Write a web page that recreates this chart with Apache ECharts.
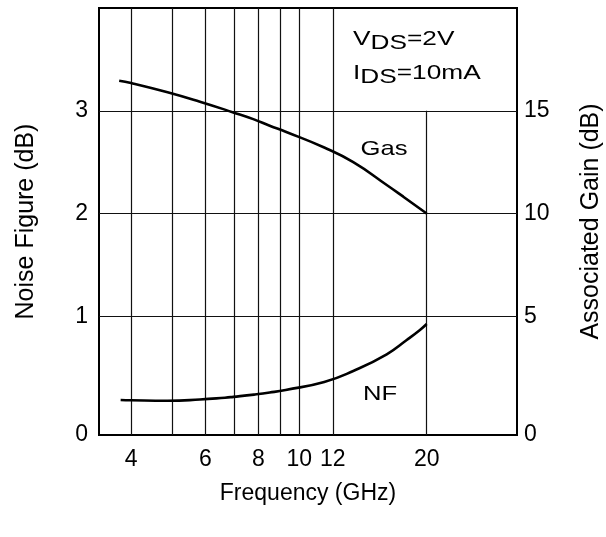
<!DOCTYPE html>
<html><head><meta charset="utf-8">
<script src="https://cdn.jsdelivr.net/npm/echarts@6/dist/echarts.min.js"></script>
<style>html,body{margin:0;padding:0;background:#fff}#c{width:606px;height:537px}</style>
</head><body><div id="c"></div>
<script>
// ---- data ----
const freqNF = [3.78, 4.0, 4.88, 5.82, 6.67, 6.98, 7.81, 8.51, 9.28, 11.45, 13.41, 16.09, 17.94, 19.28, 20];
const nfValues = [0.186, 0.183, 0.178, 0.19, 0.208, 0.216, 0.238, 0.258, 0.283, 0.361, 0.468, 0.63, 0.769, 0.867, 0.925];
const freqGas = [3.75, 4.0, 4.88, 5.82, 6.98, 7.81, 8.51, 9.28, 11.45, 13.41, 16.09, 17.61, 20];
const gasValues = [16.46, 16.35, 15.9, 15.44, 14.92, 14.58, 14.27, 13.98, 13.21, 12.5, 11.39, 10.82, 10.0];
const xTickLabels = [4, 6, 8, 10, 12, 20];
const xGridLines = [4, 5, 6, 7, 8, 9, 10, 12];
const xPartialGridLine = 20;      // stops at NF = 3
const nfTickLabels = [1, 2, 3];
const gasTickLabels = [5, 10, 15];

// axis ranges
const X_MIN = 3.36, X_MAX = 32.7;
const NF_MIN = -0.155, NF_MAX = 4;
const GAS_MIN = -0.775, GAS_MAX = 20;

const FONT = 'Liberation Sans, Arial, Helvetica, sans-serif';
const FS_TICK = 23, FS_XNAME = 23, FS_YNAME = 25, FS_ANN = 21;

const chart = echarts.init(document.getElementById('c'), null, {renderer: 'canvas'});

const nfData = freqNF.map((f, i) => [f, nfValues[i]]);
const gasData = freqGas.map((f, i) => [f, gasValues[i]]);

const gridLineData = [];
xGridLines.forEach(f => gridLineData.push({xAxis: f}));
nfTickLabels.forEach(v => gridLineData.push({yAxis: v}));
gridLineData.push([{coord: [xPartialGridLine, NF_MIN]}, {coord: [xPartialGridLine, nfTickLabels[nfTickLabels.length - 1]]}]);

const zeroFmt = (mn) => (v) => (Math.abs(v - mn) < 1e-6 ? '0' : String(v));

const option = {
  animation: false,
  backgroundColor: '#fff',
  textStyle: {fontFamily: FONT},
  grid: {left: 99, right: 89, top: 8, bottom: 102, show: true, borderColor: '#000', borderWidth: 2,
         backgroundColor: 'transparent', containLabel: false, outerBoundsMode: 'none'},
  xAxis: {
    type: 'log', logBase: 10, min: X_MIN, max: X_MAX,
    name: 'Frequency (GHz)', nameLocation: 'middle', nameGap: 47,
    nameTextStyle: {fontSize: FS_XNAME, color: '#000', fontFamily: FONT},
    axisLine: {show: false},
    axisTick: {show: false, customValues: xTickLabels},
    splitLine: {show: false},
    minorTick: {show: false}, minorSplitLine: {show: false},
    axisLabel: {customValues: xTickLabels, fontSize: FS_TICK, color: '#000', fontFamily: FONT, margin: 13, formatter: v => String(v)}
  },
  yAxis: [{
    type: 'value', min: NF_MIN, max: NF_MAX, position: 'left',
    name: 'Noise Figure (dB)', nameLocation: 'middle', nameGap: 60,
    nameTextStyle: {fontSize: FS_YNAME, color: '#000', fontFamily: FONT},
    axisLine: {show: false}, axisTick: {show: false, customValues: [NF_MIN].concat(nfTickLabels)},
    splitLine: {show: false},
    axisLabel: {customValues: [NF_MIN].concat(nfTickLabels), fontSize: FS_TICK, color: '#000', fontFamily: FONT, margin: 11, formatter: zeroFmt(NF_MIN)}
  }, {
    type: 'value', min: GAS_MIN, max: GAS_MAX, position: 'right',
    name: 'Associated Gain (dB)', nameLocation: 'middle', nameGap: 62,
    nameTextStyle: {fontSize: FS_YNAME, color: '#000', fontFamily: FONT},
    axisLine: {show: false}, axisTick: {show: false, customValues: [GAS_MIN].concat(gasTickLabels)},
    splitLine: {show: false},
    axisLabel: {customValues: [GAS_MIN].concat(gasTickLabels), fontSize: FS_TICK, color: '#000', fontFamily: FONT, margin: 7, formatter: zeroFmt(GAS_MIN)}
  }],
  series: [{
    name: 'NF', type: 'line', yAxisIndex: 0, data: nfData, smooth: 0.5, symbol: 'none',
    lineStyle: {color: '#000', width: 2.6}, z: 5,
    markLine: {
      silent: true, symbol: ['none', 'none'], label: {show: false},
      lineStyle: {color: '#111', width: 1.2, type: 'solid'}, emphasis: {disabled: true},
      data: gridLineData, z: 1
    }
  }, {
    name: 'Gas', type: 'line', yAxisIndex: 1, data: gasData, smooth: 0.5, symbol: 'none',
    lineStyle: {color: '#000', width: 2.6}, z: 5
  }],
  graphic: [
    {type: 'text', x: 353, y: 29, scaleX: 1.25, style: {text: '{a|V}{s|DS}{a|=2V}', rich: {
      a: {fontSize: FS_ANN, fontFamily: FONT, fill: '#000', verticalAlign: 'top', lineHeight: 21},
      s: {fontSize: FS_ANN, fontFamily: FONT, fill: '#000', padding: [7, 0, 0, 0], lineHeight: 21}}}},
    {type: 'text', x: 353, y: 63, scaleX: 1.25, style: {text: '{a|I}{s|DS}{a|=10mA}', rich: {
      a: {fontSize: FS_ANN, fontFamily: FONT, fill: '#000', verticalAlign: 'top', lineHeight: 21},
      s: {fontSize: FS_ANN, fontFamily: FONT, fill: '#000', padding: [7, 0, 0, 0], lineHeight: 21}}}},
    {type: 'text', x: 384, y: 149, scaleX: 1.22, style: {text: 'Gas', fontSize: FS_ANN, fontFamily: FONT, fill: '#000', align: 'center', verticalAlign: 'middle'}},
    {type: 'text', x: 380, y: 394, scaleX: 1.22, style: {text: 'NF', fontSize: FS_ANN, fontFamily: FONT, fill: '#000', align: 'center', verticalAlign: 'middle'}}
  ]
};
chart.setOption(option);
</script>
</body></html>
